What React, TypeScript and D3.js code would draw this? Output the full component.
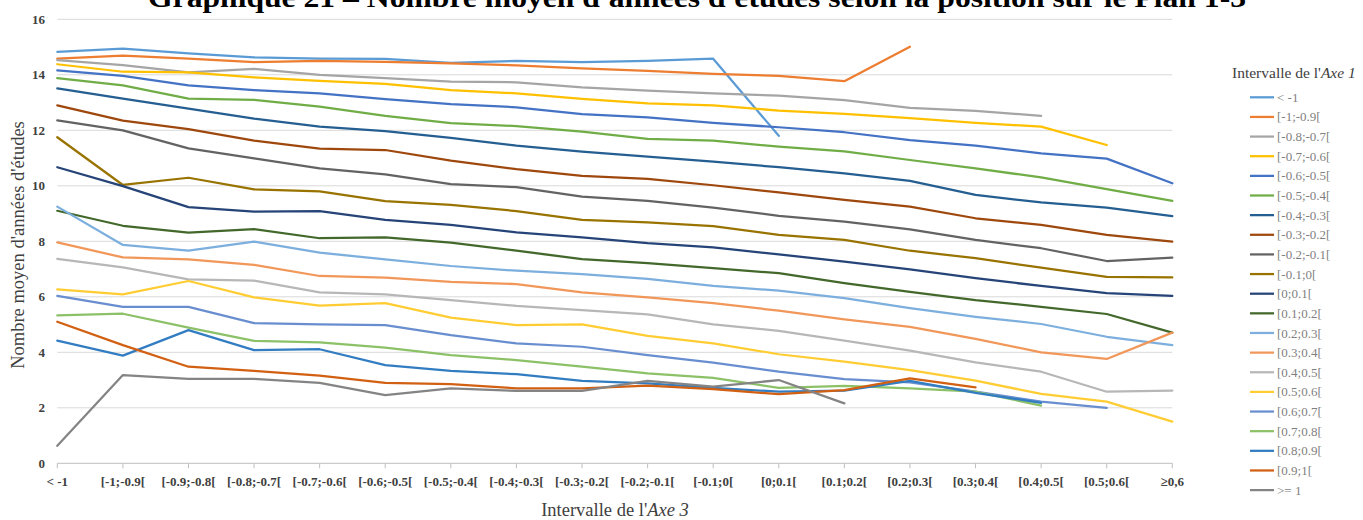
import React from "react";
import * as d3 from "d3";

const categories = ["< -1","[-1;-0.9[","[-0.9;-0.8[","[-0.8;-0.7[","[-0.7;-0.6[","[-0.6;-0.5[","[-0.5;-0.4[","[-0.4;-0.3[","[-0.3;-0.2[","[-0.2;-0.1[","[-0.1;0[","[0;0.1[","[0.1;0.2[","[0.2;0.3[","[0.3;0.4[","[0.4;0.5[","[0.5;0.6[","≥0,6"];

const seriesNames = ["< -1","[-1;-0.9[","[-0.8;-0.7[","[-0.7;-0.6[","[-0.6;-0.5[","[-0.5;-0.4[","[-0.4;-0.3[","[-0.3;-0.2[","[-0.2;-0.1[","[-0.1;0[","[0;0.1[","[0.1;0.2[","[0.2;0.3[","[0.3;0.4[","[0.4;0.5[","[0.5;0.6[","[0.6;0.7[","[0.7;0.8[","[0.8;0.9[","[0.9;1[",">= 1"];

const seriesColors = ["#5B9BD5","#ED7D31","#A5A5A5","#FFC000","#4472C4","#70AD47","#255E91","#9E480E","#636363","#997300","#264478","#43682B","#7CAFDD","#F1975A","#B7B7B7","#FFCD33","#698ED0","#8CC168","#327DC2","#D26012","#848484"];

const sLt1 = [14.83,14.94,14.77,14.63,14.58,14.57,14.43,14.5,14.46,14.5,14.58,11.8];
const sM1 = [14.58,14.69,14.58,14.46,14.5,14.47,14.41,14.34,14.23,14.14,14.03,13.96,13.77,15.01];
const sM08 = [14.53,14.35,14.09,14.21,14.0,13.88,13.75,13.73,13.55,13.43,13.33,13.25,13.09,12.81,12.7,12.52];
const sM07 = [14.38,14.11,14.09,13.91,13.78,13.67,13.45,13.33,13.13,12.97,12.9,12.71,12.59,12.44,12.27,12.13,11.47];
const sM06 = [14.16,13.96,13.62,13.45,13.33,13.12,12.94,12.83,12.58,12.47,12.27,12.11,11.93,11.65,11.45,11.17,10.98,10.09];
const sM05 = [13.88,13.62,13.14,13.1,12.85,12.52,12.26,12.15,11.95,11.69,11.63,11.41,11.24,10.93,10.63,10.3,9.88,9.46];
const sM04 = [13.51,13.14,12.78,12.42,12.13,11.97,11.73,11.45,11.23,11.05,10.87,10.67,10.45,10.18,9.67,9.4,9.21,8.91];
const sM03 = [12.9,12.35,12.04,11.63,11.34,11.29,10.91,10.6,10.36,10.25,10.02,9.76,9.49,9.25,8.83,8.59,8.23,7.99];
const sM02 = [12.36,12.0,11.35,10.99,10.63,10.41,10.06,9.95,9.61,9.46,9.21,8.92,8.71,8.43,8.05,7.75,7.29,7.41];
const sM01 = [11.75,10.03,10.29,9.87,9.8,9.45,9.31,9.09,8.77,8.68,8.55,8.23,8.05,7.66,7.39,7.05,6.72,6.7];
const sP00 = [10.67,9.99,9.23,9.07,9.09,8.77,8.59,8.32,8.14,7.93,7.78,7.53,7.27,6.99,6.67,6.39,6.13,6.03];
const sP01 = [9.1,8.56,8.31,8.44,8.11,8.14,7.95,7.66,7.36,7.21,7.03,6.85,6.49,6.18,5.88,5.64,5.38,4.71];
const sP02 = [9.25,7.87,7.66,7.99,7.59,7.35,7.11,6.94,6.82,6.65,6.39,6.22,5.95,5.59,5.28,5.02,4.56,4.26];
const sP03 = [7.96,7.42,7.35,7.15,6.75,6.69,6.54,6.46,6.16,5.98,5.77,5.5,5.19,4.92,4.48,4.0,3.76,4.71];
const sP04 = [7.37,7.06,6.63,6.58,6.16,6.09,5.88,5.67,5.52,5.37,5.01,4.77,4.42,4.06,3.64,3.3,2.58,2.62];
const sP05 = [6.27,6.09,6.57,5.98,5.68,5.77,5.25,4.98,5.01,4.59,4.32,3.93,3.66,3.36,2.98,2.5,2.22,1.5];
const sP06 = [6.03,5.64,5.64,5.05,5.01,4.98,4.62,4.32,4.2,3.9,3.63,3.3,3.03,2.92,2.58,2.22,2.0];
const sP07 = [5.33,5.39,4.89,4.41,4.36,4.17,3.9,3.72,3.48,3.24,3.08,2.72,2.79,2.7,2.58,2.08];
const sP08 = [4.42,3.88,4.8,4.08,4.11,3.54,3.33,3.21,2.97,2.88,2.72,2.58,2.62,2.97,2.54,2.18];
const sP09 = [5.1,4.26,3.48,3.33,3.16,2.9,2.85,2.7,2.7,2.8,2.67,2.49,2.64,3.06,2.74];
const sGe1 = [0.63,3.18,3.04,3.04,2.9,2.46,2.7,2.61,2.61,2.97,2.76,3.0,2.16];

const seriesValues = [sLt1,sM1,sM08,sM07,sM06,sM05,sM04,sM03,sM02,sM01,sP00,sP01,sP02,sP03,sP04,sP05,sP06,sP07,sP08,sP09,sGe1];

const yTicks = [0,2,4,6,8,10,12,14,16];

const serif = "'Liberation Serif', 'DejaVu Serif', serif";

export default function App() {
  const W = 1363, H = 520;
  const x0 = 57.3, x1 = 1172.3;
  const x = d3.scalePoint<string>().domain(categories).range([x0, x1]);
  const y = d3.scaleLinear().domain([0, 16]).range([463.3, 19.3]);
  const line = d3.line<number>().x((_, i) => x(categories[i]) as number).y(d => y(d));

  const legendX = 1250, legendY0 = 97.3, legendStep = 19.64;

  return (
    <div style={{ position: "fixed", left: 0, top: 0, width: W, height: H, overflow: "hidden", background: "#fff" }}>
      <svg width={W} height={H} style={{ display: "block" }}>
        <text x={697} y={7} textAnchor="middle" fontFamily={serif} fontWeight="bold" fontSize={27} fill="#000" textLength={1098} lengthAdjust="spacingAndGlyphs">
          Graphique 21 – Nombre moyen d'années d'études selon la position sur le Plan 1-3
        </text>
        {yTicks.map(t => (
          <g key={t}>
            {t > 0 && <line x1={x0} x2={x1} y1={y(t)} y2={y(t)} stroke="#D9D9D9" strokeWidth={1} />}
            <text x={45} y={y(t)} dy="0.35em" textAnchor="end" fontFamily={serif} fontWeight="bold" fontSize={13} fill="#404040">{t}</text>
          </g>
        ))}
        <line x1={x0} x2={x1} y1={y(0)} y2={y(0)} stroke="#BFBFBF" strokeWidth={1} />
        {categories.map(c => (
          <g key={c}>
            <line x1={x(c)} x2={x(c)} y1={y(0)} y2={y(0) + 5} stroke="#BFBFBF" strokeWidth={1} />
            <text x={x(c)} y={486} textAnchor="middle" fontFamily={serif} fontWeight="bold" fontSize={13} fill="#404040">{c}</text>
          </g>
        ))}
        {seriesValues.map((vals, i) => (
          <path key={i} d={line(vals) || ""} fill="none" stroke={seriesColors[i]} strokeWidth={2.25} strokeLinejoin="round" strokeLinecap="round" />
        ))}
        <text transform={`translate(24,245) rotate(-90)`} textAnchor="middle" fontFamily={serif} fontSize={18.5} fill="#404040">
          Nombre moyen d'années d'études
        </text>
        <text x={615} y={516} textAnchor="middle" fontFamily={serif} fontSize={18.5} fill="#404040">
          Intervalle de l'<tspan fontStyle="italic">Axe 3</tspan>
        </text>
        <text x={1232} y={78} fontFamily={serif} fontSize={15.5} fill="#404040">
          Intervalle de l'<tspan fontStyle="italic">Axe 1</tspan>
        </text>
        {seriesNames.map((n, i) => (
          <g key={n}>
            <line x1={legendX} x2={legendX + 24} y1={legendY0 + i * legendStep} y2={legendY0 + i * legendStep} stroke={seriesColors[i]} strokeWidth={2.25} />
            <text x={legendX + 27} y={legendY0 + i * legendStep} dy="0.35em" fontFamily={serif} fontSize={13} fill="#7F7F7F">{n}</text>
          </g>
        ))}
      </svg>
    </div>
  );
}
